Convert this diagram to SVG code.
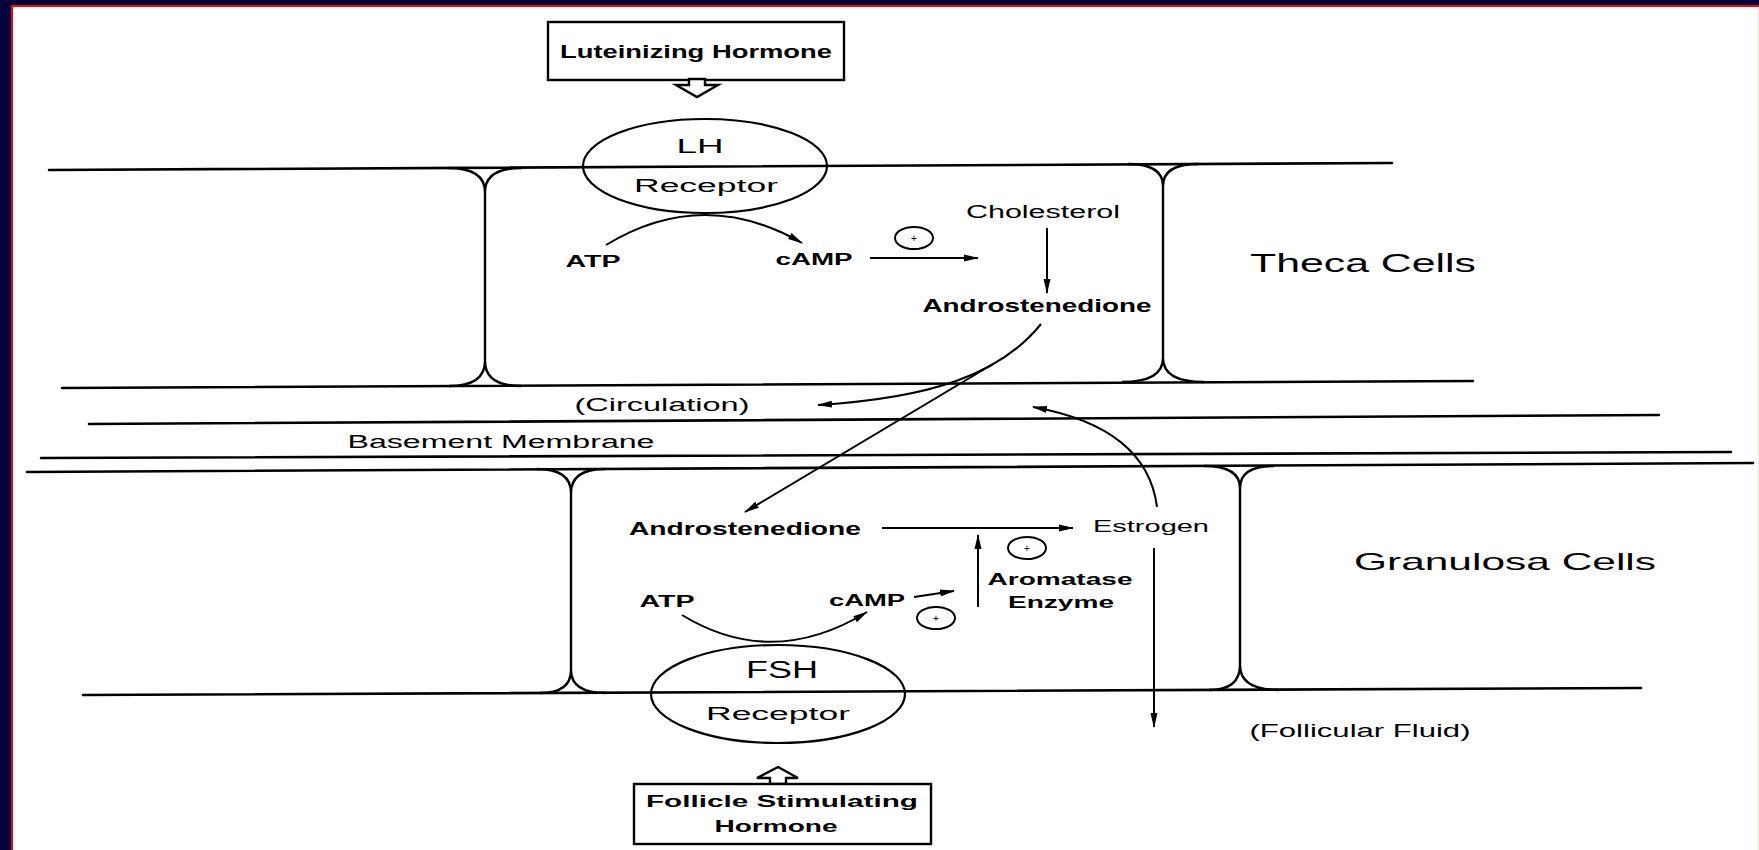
<svg xmlns="http://www.w3.org/2000/svg" width="1759" height="850" viewBox="0 0 1759 850">
<style>
.ln{stroke:#000;stroke-width:2.6;fill:none;stroke-linecap:round}
.wall{stroke:#000;stroke-width:2.4;fill:none}
.cn{stroke:#000;stroke-width:2;fill:none}
.shape{stroke:#000;stroke-width:2.4;fill:#fff}
.t{font-family:"Liberation Sans",Arial,sans-serif;fill:#000;text-anchor:middle}
.b{font-weight:bold}
.pl{stroke:#000;stroke-width:2;fill:none}
</style>
<defs>
<marker id="ah" markerUnits="userSpaceOnUse" markerWidth="16" markerHeight="10" refX="14" refY="5" orient="auto">
<path d="M0,1.5 L15,5 L0,8.5 Z" fill="#000"/>
</marker>
</defs>
<rect x="0" y="0" width="1759" height="850" fill="#02023f"/>
<rect x="11" y="5" width="1748" height="845" fill="#ff0000"/>
<rect x="13" y="7" width="1746" height="843" fill="#fff"/>
<line x1="1758.5" y1="7" x2="1758.5" y2="850" stroke="#ffdede" stroke-width="1"/>

<g id="membranes">
<line class="ln" x1="49" y1="170" x2="1392" y2="163"/>
<line class="ln" x1="62" y1="388" x2="1473" y2="381"/>
<line class="ln" x1="89" y1="424" x2="1659" y2="415"/>
<line class="ln" x1="41" y1="458" x2="1731" y2="452"/>
<line class="ln" x1="27" y1="472" x2="1753" y2="463"/>
<line class="ln" x1="83" y1="695" x2="1641" y2="688"/>
</g>

<g id="cell-walls">
<path class="wall" d="M448,168 Q485,168 485,192 L485,361 Q485,386 449,386 M522,168 Q485,168 485,192 M485,361 Q485,386 521,386"/>
<path class="wall" d="M1128,164 Q1163,164 1163,186 L1163,358 Q1163,382 1122,382 M1198,164 Q1163,164 1163,186 M1163,358 Q1163,382 1204,382"/>
<path class="wall" d="M537,469 Q571,469 571,493 L571,670 Q571,693 540,693 M605,469 Q571,469 571,493 M571,670 Q571,693 606,693"/>
<path class="wall" d="M1204,466 Q1240,466 1240,488 L1240,665 Q1240,690 1209,690 M1274,466 Q1240,466 1240,488 M1240,665 Q1240,690 1279,690"/>
</g>

<g id="lh-hormone">
<rect class="shape" x="548" y="22" width="296" height="58"/>
<text class="t b" x="696" y="58" font-size="18" textLength="272" lengthAdjust="spacingAndGlyphs">Luteinizing Hormone</text>
</g>
<g id="lh-arrow">
<polygon class="shape" points="689,79 705,79 705,85 718,85 697,97 676,85 689,85"/>
</g>
<g id="lh-receptor">
<ellipse cx="705" cy="166" rx="122" ry="47" fill="none" stroke="#000" stroke-width="2.2"/>
<text class="t" x="700" y="153" font-size="21" textLength="47" lengthAdjust="spacingAndGlyphs">LH</text>
<text class="t" x="706" y="192" font-size="18" textLength="144" lengthAdjust="spacingAndGlyphs">Receptor</text>
</g>

<g id="theca-atp"><text class="t b" x="593" y="267" font-size="16" textLength="55" lengthAdjust="spacingAndGlyphs">ATP</text></g>
<g id="theca-camp"><text class="t b" x="814" y="265" font-size="16" textLength="77" lengthAdjust="spacingAndGlyphs">cAMP</text></g>
<g id="theca-plus">
<ellipse class="pl" cx="914" cy="238" rx="19" ry="11"/>
<text class="t" x="914" y="242" font-size="10">+</text>
</g>
<g id="cholesterol"><text class="t" x="1043" y="218" font-size="18" textLength="154" lengthAdjust="spacingAndGlyphs">Cholesterol</text></g>
<g id="theca-androstenedione"><text class="t b" x="1037" y="312" font-size="18" textLength="229" lengthAdjust="spacingAndGlyphs">Androstenedione</text></g>
<g id="theca-label"><text class="t" x="1363" y="272" font-size="25" textLength="226" lengthAdjust="spacingAndGlyphs">Theca Cells</text></g>
<g id="circulation"><text class="t" x="662" y="411" font-size="18" textLength="175" lengthAdjust="spacingAndGlyphs">(Circulation)</text></g>
<g id="basement-membrane"><text class="t" x="501" y="448" font-size="18" textLength="307" lengthAdjust="spacingAndGlyphs">Basement Membrane</text></g>

<g id="gran-androstenedione"><text class="t b" x="745" y="535" font-size="18" textLength="232" lengthAdjust="spacingAndGlyphs">Androstenedione</text></g>
<g id="estrogen"><text class="t" x="1151" y="532" font-size="17" textLength="116" lengthAdjust="spacingAndGlyphs">Estrogen</text></g>
<g id="aromatase">
<text class="t b" x="1060" y="585" font-size="17" textLength="145" lengthAdjust="spacingAndGlyphs">Aromatase</text>
<text class="t b" x="1061" y="608" font-size="17" textLength="106" lengthAdjust="spacingAndGlyphs">Enzyme</text>
</g>
<g id="aromatase-plus">
<ellipse class="pl" cx="1027" cy="548" rx="19" ry="11"/>
<text class="t" x="1027" y="552" font-size="10">+</text>
</g>
<g id="gran-plus">
<ellipse class="pl" cx="936" cy="618" rx="19" ry="11"/>
<text class="t" x="936" y="622" font-size="10">+</text>
</g>
<g id="granulosa-label"><text class="t" x="1505" y="570" font-size="24" textLength="302" lengthAdjust="spacingAndGlyphs">Granulosa Cells</text></g>
<g id="follicular-fluid"><text class="t" x="1360" y="737" font-size="18" textLength="221" lengthAdjust="spacingAndGlyphs">(Follicular Fluid)</text></g>
<g id="gran-atp"><text class="t b" x="667" y="607" font-size="16" textLength="55" lengthAdjust="spacingAndGlyphs">ATP</text></g>
<g id="gran-camp"><text class="t b" x="867" y="606" font-size="16" textLength="76" lengthAdjust="spacingAndGlyphs">cAMP</text></g>

<g id="fsh-receptor">
<ellipse cx="778" cy="694" rx="127" ry="49" fill="none" stroke="#000" stroke-width="2.2"/>
<text class="t" x="782" y="678" font-size="23" textLength="72" lengthAdjust="spacingAndGlyphs">FSH</text>
<text class="t" x="778" y="720" font-size="18" textLength="144" lengthAdjust="spacingAndGlyphs">Receptor</text>
</g>
<g id="fsh-arrow">
<polygon class="shape" points="778,767 798,778 786,778 786,784 770,784 770,778 757,778"/>
</g>
<g id="fsh-hormone">
<rect class="shape" x="634" y="784" width="297" height="60"/>
<text class="t b" x="782" y="807" font-size="16" textLength="272" lengthAdjust="spacingAndGlyphs">Follicle Stimulating</text>
<text class="t b" x="776" y="832" font-size="16" textLength="123" lengthAdjust="spacingAndGlyphs">Hormone</text>
</g>

<g id="connectors">
<path class="cn" d="M606,245 Q703,186 802,243" marker-end="url(#ah)"/>
<path class="cn" d="M870,258 L978,258" marker-end="url(#ah)"/>
<path class="cn" d="M1047,228 L1047,293" marker-end="url(#ah)"/>
<path class="cn" stroke-width="2.4" d="M1041,324 C1000,375 930,398 818,405" marker-end="url(#ah)"/>
<path class="cn" d="M993,364 L745,512" marker-end="url(#ah)"/>
<path class="cn" d="M1157,507 C1150,452 1105,420 1033,407" marker-end="url(#ah)"/>
<path class="cn" d="M882,528 L1073,528" marker-end="url(#ah)"/>
<path class="cn" d="M978,607 L978,535" marker-end="url(#ah)"/>
<path class="cn" d="M1154,548 L1154,727" marker-end="url(#ah)"/>
<path class="cn" stroke-width="2.4" d="M682,615 Q772,670 867,612" marker-end="url(#ah)"/>
<path class="cn" d="M914,597 L954,591" marker-end="url(#ah)"/>
</g>
</svg>
